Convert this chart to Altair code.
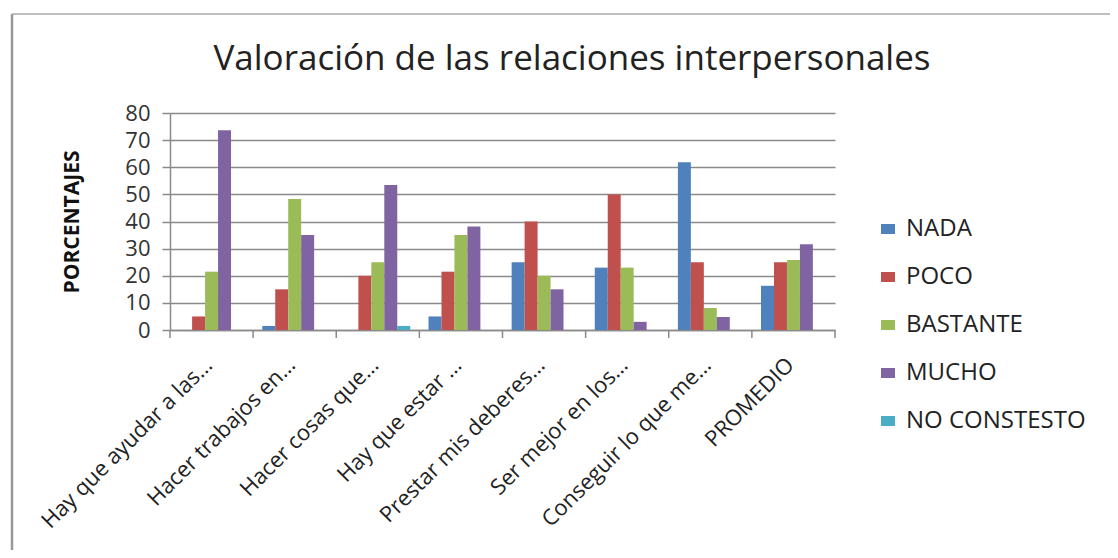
import altair as alt
import pandas as pd

title_text = "Valoración de las relaciones interpersonales"
categories = [
    "Hay que ayudar a las…",
    "Hacer trabajos en…",
    "Hacer cosas que…",
    "Hay que estar …",
    "Prestar mis deberes…",
    "Ser mejor en los…",
    "Conseguir lo que me…",
    "PROMEDIO",
]
series = ["NADA", "POCO", "BASTANTE", "MUCHO", "NO CONSTESTO"]
colors = ["#4F81BD", "#C0504D", "#9BBB59", "#8064A2", "#4BACC6"]

nada = [0, 1.5, 0, 5, 25, 23, 61.8, 16.3]
poco = [5, 15, 20, 21.5, 40, 50, 25, 25]
bastante = [21.5, 48.3, 25, 35, 20, 23, 8.1, 25.8]
mucho = [73.6, 35, 53.5, 38.2, 15, 3, 4.8, 31.6]
no_contesto = [0, 0, 1.5, 0, 0, 0, 0, 0]

values = [nada, poco, bastante, mucho, no_contesto]
rows = []
for i, c in enumerate(categories):
    for s, vals in zip(series, values):
        rows.append({"cat": c, "serie": s, "valor": vals[i]})
df = pd.DataFrame(rows)

W, H = 665, 217
FONT = "Open Sans"
GRAY = "#8a8a8a"

bars = alt.Chart(df).mark_bar().encode(
    x=alt.X(
        "cat:N",
        sort=categories,
        scale=alt.Scale(paddingInner=0.22, paddingOuter=0.11),
        axis=alt.Axis(
            title=None, labelAngle=-45, labelAlign="right", labelBaseline="top",
            labelFontSize=22, labelColor="#222", labelPadding=24, labelOffset=-10, ticks=False,
            domainColor=GRAY, domainWidth=1.5, labelLimit=400,
        ),
    ),
    xOffset=alt.XOffset("serie:N", sort=series, scale=alt.Scale(paddingInner=0, paddingOuter=0)),
    y=alt.Y(
        "valor:Q",
        scale=alt.Scale(domain=[0, 80]),
        axis=alt.Axis(
            title="PORCENTAJES", titleFontSize=21, titleFontWeight="bold", titleColor="#111",
            titlePadding=42, values=list(range(0, 81, 10)), labelFontSize=22, labelColor="#333",
            tickSize=8, tickColor=GRAY, tickWidth=1.5, domainColor=GRAY, domainWidth=1.5,
            gridColor=GRAY, gridWidth=1.5, labelPadding=12,
        ),
    ),
    color=alt.Color(
        "serie:N", sort=series, scale=alt.Scale(domain=series, range=colors),
        legend=alt.Legend(
            title=None, orient="none", legendX=706, legendY=104,
            symbolType="M-1.4,-1L1.4,-1L1.4,1L-1.4,1Z",
            symbolSize=100, symbolStrokeWidth=0, labelFontSize=24, labelColor="#222",
            rowPadding=24, labelOffset=6, labelLimit=400,
        ),
    ),
)

ticks_df = pd.DataFrame({"idx": list(range(len(categories) + 1))})
ticks = alt.Chart(ticks_df).mark_rule(color=GRAY, strokeWidth=1.5).encode(
    x=alt.X("idx:Q", scale=alt.Scale(domain=[0, len(categories)]), axis=None),
    y=alt.value(H),
    y2=alt.value(H + 8),
)

frame_df = pd.DataFrame({"a": [0]})
left_border = alt.Chart(frame_df).mark_rule(color="#999", strokeWidth=2.5).encode(
    x=alt.value(-158), y=alt.value(-99), y2=alt.value(H + 240)
)
top_border = alt.Chart(frame_df).mark_rule(color="#aaa", strokeWidth=1.5).encode(
    x=alt.value(-158), x2=alt.value(948), y=alt.value(-99)
)

title_df = pd.DataFrame({"t": [title_text]})
title = alt.Chart(title_df).mark_text(
    font=FONT, fontSize=35, color="#222", align="center", baseline="alphabetic"
).encode(x=alt.value(402), y=alt.value(-43), text="t:N")

chart = alt.layer(bars, ticks, left_border, top_border, title).resolve_scale(x="independent").properties(
    width=W,
    height=H,
    padding={"left": 162, "top": 105, "right": 275, "bottom": 220},
    autosize=alt.AutoSizeParams(type="none"),
).configure(font=FONT).configure_view(stroke=None).configure_axis(labelFont=FONT, titleFont=FONT).configure_legend(labelFont=FONT)

chart.save("out.html", embed_options={"renderer": "svg", "actions": False})
